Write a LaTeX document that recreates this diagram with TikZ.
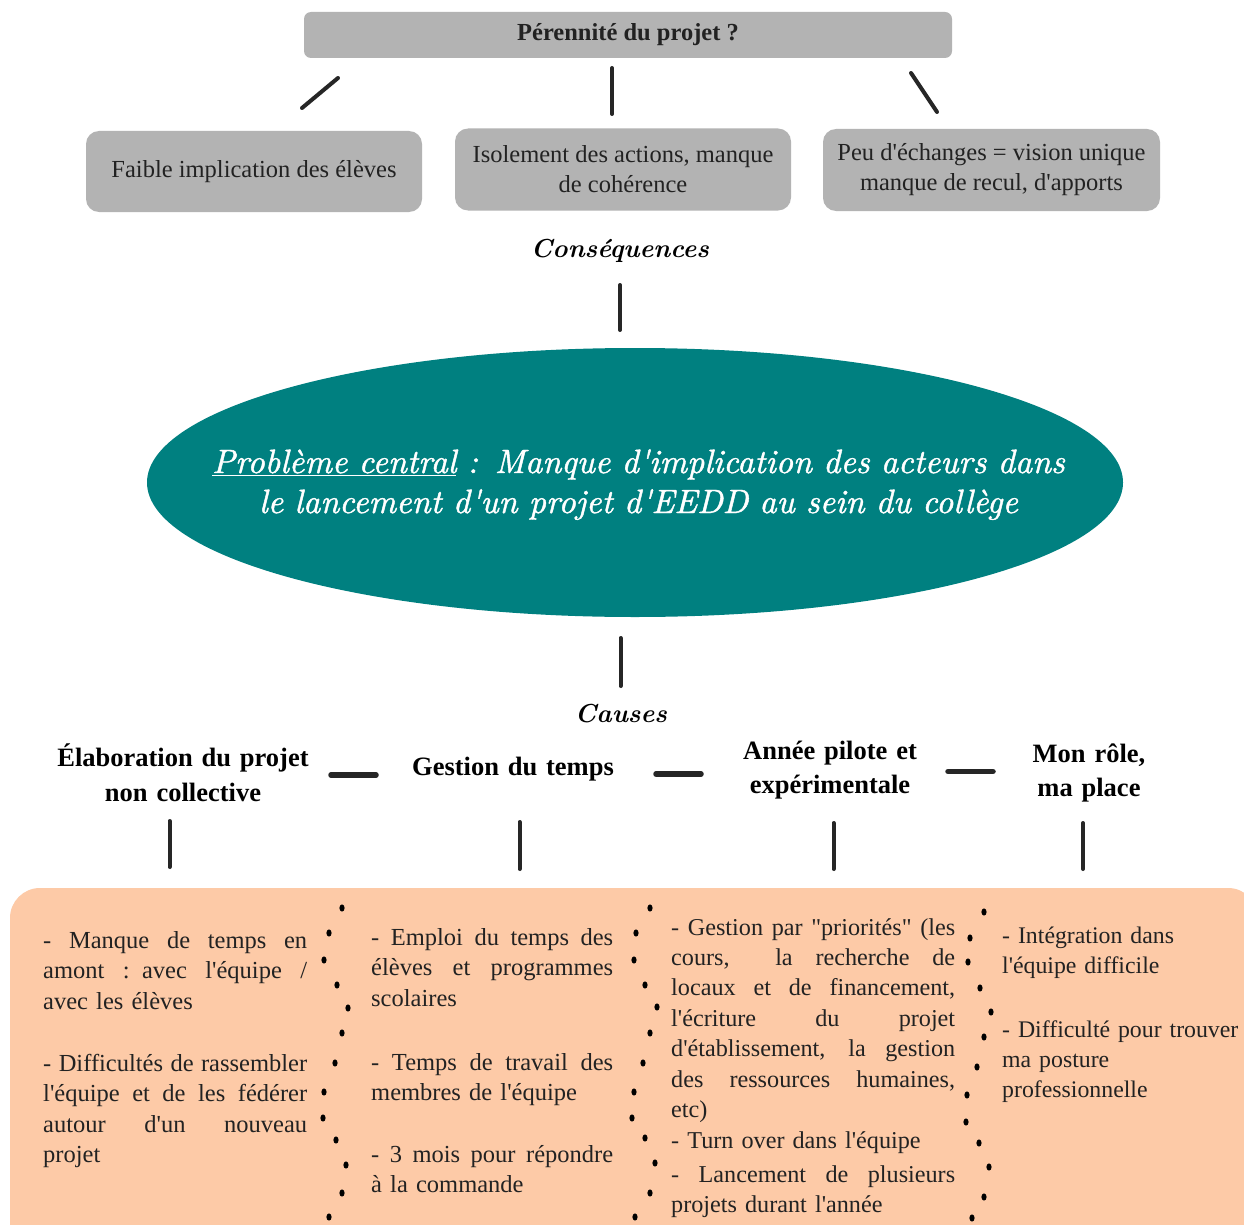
\documentclass[tikz,border=0pt]{standalone}
\usepackage{fontspec}
\newfontfamily\tf{Liberation Serif}[Ligatures=TeXOff]
\newfontfamily\handf{lmroman10-italic.otf}[FakeBold=1.3]
\usetikzlibrary{shapes.geometric}
\definecolor{boxgray}{RGB}{179,179,179}
\definecolor{tealc}{RGB}{0,128,128}
\definecolor{peach}{RGB}{253,202,167}
\definecolor{linec}{RGB}{38,38,38}
\definecolor{txt}{RGB}{34,34,34}
% justified line of a given width
\newcommand{\J}[2]{\leavevmode\hbox to #1{\spaceskip=\fontdimen2\font plus 1fil\relax #2}\\}
\tikzset{
 graybox/.style={fill=boxgray, rounded corners=13pt, inner sep=0pt, align=center, text=txt, font=\tf\fontsize{24.5}{30}\selectfont},
 conn/.style={draw=linec, line width=4pt, line cap=round},
 hdash/.style={draw=linec, line width=5.5pt, line cap=round},
 hdr/.style={anchor=base, inner sep=0pt, text width=320pt, align=center, font=\tf\bfseries\fontsize{26.5}{34.5}\selectfont, text=black},
 hand/.style={anchor=base, inner sep=0pt, font=\fontsize{26}{30}\selectfont\bfseries\itshape, text=black},
 colt/.style={anchor=base west, inner sep=0pt, font=\tf\fontsize{24.5}{30.6}\selectfont, text=txt},
 dotm/.style={fill=black},
}
\begin{document}
\begin{tikzpicture}[x=1pt,y=-1pt]
\clip (0,0) rectangle (1244,1225);
\fill[white] (0,0) rectangle (1244,1225);

% top part
\node[graybox, rounded corners=7pt, minimum width=648pt, minimum height=46pt, text height=11pt, text depth=0pt, font=\tf\bfseries\fontsize{24.5}{30}\selectfont] (top) at (628,35) {Pérennité du projet ?};
\node[graybox, minimum width=336pt, minimum height=81pt] (b1) at (254,171.5) {Faible implication des élèves};
\node[graybox, minimum width=336pt, minimum height=82pt] (b2) at (623,169.5) {Isolement des actions, manque\\de cohérence};
\node[graybox, minimum width=337pt, minimum height=82pt] (b3) at (991.5,170) {Peu d'échanges = vision unique\\manque de recul, d'apports};

\coordinate (t1a) at (338,78); \coordinate (t1b) at (302,108);
\coordinate (t2a) at (612,68); \coordinate (t2b) at (612,114);
\coordinate (t3a) at (911,73); \coordinate (t3b) at (937,112);
\draw[conn] (t1a) -- (t1b);
\draw[conn] (t2a) -- (t2b);
\draw[conn] (t3a) -- (t3b);

\node[hand] (cons) at (620,257) {Conséquences};
\coordinate (c4a) at (620,285); \coordinate (c4b) at (620,330);
\draw[conn] (c4a) -- (c4b);

% central ellipse
\node[ellipse, fill=tealc, minimum width=976pt, minimum height=269pt, inner sep=0pt] (ell) at (635,482.5) {};
\node[anchor=base, inner sep=0pt, text width=940pt, align=center, text=white, font=\handf\fontsize{33.7}{40}\selectfont] (etext) at (638.5,473) {\underline{Problème central} : Manque d'implication des acteurs dans\\le lancement d'un projet d'EEDD au sein du collège};

\coordinate (c5a) at (620.5,638); \coordinate (c5b) at (620.5,686);
\draw[conn] (c5a) -- (c5b);
\node[hand] (causes) at (621,722) {Causes};

% cause headers
\node[hdr] (h1) at (183,766.5) {Élaboration du projet\\non collective};
\node[hdr] (h2) at (513,775) {Gestion du temps};
\node[hdr] (h3) at (830,759) {Année pilote et\\expérimentale};
\node[hdr] (h4) at (1089,762) {Mon rôle,\\ma place};

\coordinate (d1a) at (331,775); \coordinate (d1b) at (376,775);
\coordinate (d2a) at (656,774); \coordinate (d2b) at (701,774);
\coordinate (d3a) at (948,771.5); \coordinate (d3b) at (993,771.5);
\draw[hdash] (d1a) -- (d1b);
\draw[hdash] (d2a) -- (d2b);
\draw[hdash] (d3a) -- (d3b);

\coordinate (v1a) at (169.5,821); \coordinate (v1b) at (169.5,867);
\coordinate (v2a) at (519.5,822); \coordinate (v2b) at (519.5,869);
\coordinate (v3a) at (833.5,823); \coordinate (v3b) at (833.5,869);
\coordinate (v4a) at (1083,823); \coordinate (v4b) at (1083,869);
\draw[conn] (v1a) -- (v1b);
\draw[conn] (v2a) -- (v2b);
\draw[conn] (v3a) -- (v3b);
\draw[conn] (v4a) -- (v4b);

% bottom box
\fill[peach, rounded corners=30pt] (10,888) rectangle (1258,1265);

\node[colt, text width=264pt] (p11) at (43,948) {\J{264pt}{- Manque de temps en}\J{264pt}{amont : avec l'équipe /}avec les élèves};
\node[colt, text width=264pt] (p12) at (43,1071) {\J{264pt}{- Difficultés de rassembler}\J{264pt}{l'équipe et de les fédérer}\J{264pt}{autour d'un nouveau}projet};

\node[colt, text width=242pt] (p21) at (371,945) {\J{242pt}{- Emploi du temps des}\J{242pt}{élèves et programmes}scolaires};
\node[colt, text width=242pt] (p22) at (371,1070) {\J{242pt}{- Temps de travail des}membres de l'équipe};
\node[colt, text width=242pt] (p23) at (371,1162) {\J{242pt}{- 3 mois pour répondre}à la commande};

\node[colt, text width=284pt, font=\tf\fontsize{24.2}{30.45}\selectfont] (p31) at (671,935) {\J{284pt}{- Gestion par "priorités" (les}\J{284pt}{cours,\ \ la recherche de}\J{284pt}{locaux et de financement,}\J{284pt}{l'écriture du projet}\J{284pt}{d'établissement, la gestion}\J{284pt}{des ressources humaines,}etc)\\- Turn over dans l'équipe};
\node[colt, text width=284pt, font=\tf\fontsize{24.2}{30}\selectfont] (p32) at (671,1182) {\J{284pt}{- Lancement de plusieurs}projets durant l'année};

\node[colt, text width=240pt, align=left, font=\tf\fontsize{23.8}{30.3}\selectfont] (p41) at (1002,943) {- Intégration dans\\l'équipe difficile};
\node[colt, text width=240pt, align=left, font=\tf\fontsize{23.8}{30}\selectfont] (p42) at (1002,1037) {- Difficulté pour trouver\\ma posture\\professionnelle};

% dotted separators
\foreach \x/\y in {342/908,329/933,324/960,337/985,348/1008,342/1033,335/1063,324/1092,323/1118,336/1140,346/1165,342/1193,329/1217,
  650/908,636/933,634/960,645/985,657/1007,650/1033,643/1063,634/1092,632/1118,645/1138,655/1163,650/1193,635/1217,
  984/912,970/938,968/962,980/988,991/1012,984/1037,977/1067,967/1095,966/1122,979/1143,989/1167,984/1197,972/1218}
  \fill[dotm] (\x,\y) ellipse (2.6pt and 3.6pt);
\end{tikzpicture}
\end{document}
